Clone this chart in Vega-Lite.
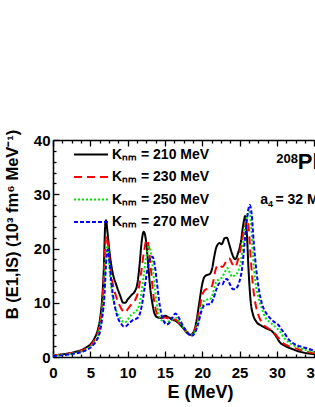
{
  "$schema": "https://vega.github.io/schema/vega-lite/v6.json",
  "autosize": {"type": "none"},
  "width": 262,
  "height": 217,
  "padding": {"left": 53, "top": 140, "right": 0, "bottom": 50},
  "background": "white",
  "config": {
    "view": {"stroke": null},
    "font": "Liberation Sans",
    "axis": {
      "grid": false,
      "domainColor": "black",
      "domainWidth": 1.6,
      "tickColor": "black",
      "tickWidth": 1.3,
      "labelColor": "black",
      "labelFont": "Liberation Sans",
      "labelFontWeight": "bold",
      "labelFontSize": 15,
      "titleColor": "black",
      "titleFont": "Liberation Sans",
      "titleFontWeight": "bold"
    }
  },
  "data": {
    "values": [
      {"K":"210","E":0,"B":0.3},{"K":"210","E":1,"B":0.45},{"K":"210","E":2,"B":0.65},{"K":"210","E":3,"B":0.95},{"K":"210","E":4,"B":1.4},{"K":"210","E":4.5,"B":1.8},{"K":"210","E":5,"B":2.3},{"K":"210","E":5.5,"B":3.3},{"K":"210","E":6,"B":5.0},{"K":"210","E":6.3,"B":7.0},{"K":"210","E":6.6,"B":11},{"K":"210","E":6.8,"B":16},{"K":"210","E":7.0,"B":24.5},{"K":"210","E":7.1,"B":25.2},{"K":"210","E":7.3,"B":23},{"K":"210","E":7.6,"B":19},{"K":"210","E":8.0,"B":15.5},{"K":"210","E":8.5,"B":13.2},{"K":"210","E":9.0,"B":11.3},{"K":"210","E":9.4,"B":10.0},{"K":"210","E":9.7,"B":10.0},{"K":"210","E":10.0,"B":10.6},{"K":"210","E":10.5,"B":11.4},{"K":"210","E":11.0,"B":12.2},{"K":"210","E":11.3,"B":13.5},{"K":"210","E":11.6,"B":17},{"K":"210","E":11.9,"B":21.5},{"K":"210","E":12.15,"B":23.1},{"K":"210","E":12.4,"B":22},{"K":"210","E":12.7,"B":18},{"K":"210","E":13.0,"B":13},{"K":"210","E":13.3,"B":10},{"K":"210","E":13.6,"B":8},{"K":"210","E":14.0,"B":7.3},{"K":"210","E":14.5,"B":7.2},{"K":"210","E":15.0,"B":7.6},{"K":"210","E":15.5,"B":7.3},{"K":"210","E":16.0,"B":6.9},{"K":"210","E":16.5,"B":6.6},{"K":"210","E":17.0,"B":6.0},{"K":"210","E":17.5,"B":5.2},{"K":"210","E":18.0,"B":4.4},{"K":"210","E":18.4,"B":4.1},{"K":"210","E":18.8,"B":4.5},{"K":"210","E":19.2,"B":6.5},{"K":"210","E":19.6,"B":10},{"K":"210","E":20.0,"B":13.5},{"K":"210","E":20.3,"B":14.8},{"K":"210","E":20.6,"B":15.1},{"K":"210","E":21.0,"B":15.3},{"K":"210","E":21.3,"B":16.2},{"K":"210","E":21.6,"B":18.5},{"K":"210","E":21.9,"B":20.3},{"K":"210","E":22.3,"B":21.0},{"K":"210","E":22.6,"B":20.8},{"K":"210","E":23.0,"B":21.9},{"K":"210","E":23.3,"B":22.0},{"K":"210","E":23.6,"B":20.8},{"K":"210","E":24.0,"B":19.0},{"K":"210","E":24.4,"B":18.0},{"K":"210","E":24.8,"B":19.2},{"K":"210","E":25.2,"B":21.5},{"K":"210","E":25.5,"B":24.5},{"K":"210","E":25.75,"B":26.0},{"K":"210","E":26.0,"B":22},{"K":"210","E":26.2,"B":16},{"K":"210","E":26.5,"B":10},{"K":"210","E":26.8,"B":7.8},{"K":"210","E":27.2,"B":6.6},{"K":"210","E":28.0,"B":5.7},{"K":"210","E":28.7,"B":5.2},{"K":"210","E":29.3,"B":4.8},{"K":"210","E":29.8,"B":4.0},{"K":"210","E":30.4,"B":2.7},{"K":"210","E":31.0,"B":2.1},{"K":"210","E":32,"B":1.5},{"K":"210","E":33,"B":1.0},{"K":"210","E":34,"B":0.7},{"K":"210","E":35.1,"B":0.5},
      {"K":"230","E":0,"B":0.3},{"K":"230","E":1,"B":0.4},{"K":"230","E":2,"B":0.6},{"K":"230","E":3,"B":0.85},{"K":"230","E":4,"B":1.3},{"K":"230","E":4.5,"B":1.6},{"K":"230","E":5,"B":2.1},{"K":"230","E":5.5,"B":3.0},{"K":"230","E":6,"B":4.5},{"K":"230","E":6.3,"B":6.3},{"K":"230","E":6.6,"B":10},{"K":"230","E":6.8,"B":14.5},{"K":"230","E":7.0,"B":20.5},{"K":"230","E":7.15,"B":22.3},{"K":"230","E":7.4,"B":20.5},{"K":"230","E":7.7,"B":16.5},{"K":"230","E":8.0,"B":13.5},{"K":"230","E":8.5,"B":11},{"K":"230","E":9.0,"B":9.3},{"K":"230","E":9.4,"B":8.4},{"K":"230","E":9.7,"B":8.2},{"K":"230","E":10.0,"B":8.8},{"K":"230","E":10.5,"B":9.7},{"K":"230","E":11.0,"B":10.5},{"K":"230","E":11.4,"B":12},{"K":"230","E":11.8,"B":15.5},{"K":"230","E":12.2,"B":19.5},{"K":"230","E":12.55,"B":21.6},{"K":"230","E":12.8,"B":20.5},{"K":"230","E":13.1,"B":16.5},{"K":"230","E":13.4,"B":12},{"K":"230","E":13.7,"B":9.2},{"K":"230","E":14.0,"B":7.8},{"K":"230","E":14.5,"B":7.2},{"K":"230","E":15.0,"B":7.3},{"K":"230","E":15.5,"B":7.1},{"K":"230","E":16.0,"B":7.0},{"K":"230","E":16.5,"B":6.8},{"K":"230","E":17.0,"B":6.1},{"K":"230","E":17.5,"B":5.3},{"K":"230","E":18.0,"B":4.6},{"K":"230","E":18.5,"B":4.3},{"K":"230","E":18.9,"B":4.7},{"K":"230","E":19.3,"B":6.5},{"K":"230","E":19.7,"B":9.5},{"K":"230","E":20.1,"B":11.8},{"K":"230","E":20.5,"B":12.5},{"K":"230","E":21.0,"B":12.6},{"K":"230","E":21.4,"B":13.5},{"K":"230","E":21.8,"B":16.2},{"K":"230","E":22.2,"B":17.0},{"K":"230","E":22.7,"B":16.6},{"K":"230","E":23.2,"B":17.6},{"K":"230","E":23.6,"B":18.2},{"K":"230","E":24.0,"B":17.2},{"K":"230","E":24.4,"B":16.6},{"K":"230","E":24.8,"B":18},{"K":"230","E":25.2,"B":20.5},{"K":"230","E":25.6,"B":23.5},{"K":"230","E":26.0,"B":25.4},{"K":"230","E":26.2,"B":24},{"K":"230","E":26.5,"B":18},{"K":"230","E":26.8,"B":13},{"K":"230","E":27.1,"B":10},{"K":"230","E":27.5,"B":7.8},{"K":"230","E":28.0,"B":6.3},{"K":"230","E":28.8,"B":5.3},{"K":"230","E":29.5,"B":4.7},{"K":"230","E":30.2,"B":3.5},{"K":"230","E":30.9,"B":2.5},{"K":"230","E":31.8,"B":1.9},{"K":"230","E":32.7,"B":1.5},{"K":"230","E":34,"B":1.0},{"K":"230","E":35.1,"B":0.7},
      {"K":"250","E":0,"B":0.25},{"K":"250","E":1,"B":0.35},{"K":"250","E":2,"B":0.5},{"K":"250","E":3,"B":0.75},{"K":"250","E":4,"B":1.1},{"K":"250","E":4.5,"B":1.4},{"K":"250","E":5,"B":1.9},{"K":"250","E":5.5,"B":2.7},{"K":"250","E":6,"B":4.0},{"K":"250","E":6.3,"B":5.5},{"K":"250","E":6.6,"B":8.5},{"K":"250","E":6.85,"B":12.5},{"K":"250","E":7.05,"B":18},{"K":"250","E":7.2,"B":20.5},{"K":"250","E":7.4,"B":19.5},{"K":"250","E":7.6,"B":15.5},{"K":"250","E":8.0,"B":11},{"K":"250","E":8.3,"B":9.3},{"K":"250","E":8.7,"B":7.8},{"K":"250","E":9.0,"B":7.1},{"K":"250","E":9.4,"B":6.5},{"K":"250","E":9.7,"B":6.4},{"K":"250","E":10.0,"B":6.9},{"K":"250","E":10.5,"B":7.8},{"K":"250","E":11.0,"B":8.3},{"K":"250","E":11.3,"B":8.7},{"K":"250","E":11.7,"B":10.5},{"K":"250","E":12.1,"B":14.5},{"K":"250","E":12.5,"B":18.5},{"K":"250","E":12.85,"B":20.3},{"K":"250","E":13.1,"B":19.3},{"K":"250","E":13.4,"B":16},{"K":"250","E":13.7,"B":12},{"K":"250","E":14.0,"B":9},{"K":"250","E":14.3,"B":7.3},{"K":"250","E":14.7,"B":6.6},{"K":"250","E":15.2,"B":6.4},{"K":"250","E":15.6,"B":6.6},{"K":"250","E":16.1,"B":7.0},{"K":"250","E":16.5,"B":7.2},{"K":"250","E":17.0,"B":6.4},{"K":"250","E":17.5,"B":5.3},{"K":"250","E":18.0,"B":4.5},{"K":"250","E":18.5,"B":4.1},{"K":"250","E":19.0,"B":4.6},{"K":"250","E":19.4,"B":6.3},{"K":"250","E":19.8,"B":8.7},{"K":"250","E":20.2,"B":10.3},{"K":"250","E":20.6,"B":10.6},{"K":"250","E":21.0,"B":10.6},{"K":"250","E":21.4,"B":11.6},{"K":"250","E":21.8,"B":13.6},{"K":"250","E":22.2,"B":14.3},{"K":"250","E":22.6,"B":14.6},{"K":"250","E":23.0,"B":15.6},{"K":"250","E":23.35,"B":16.4},{"K":"250","E":23.7,"B":15.5},{"K":"250","E":24.0,"B":14.8},{"K":"250","E":24.4,"B":15.1},{"K":"250","E":24.8,"B":15.8},{"K":"250","E":25.2,"B":18},{"K":"250","E":25.6,"B":22.5},{"K":"250","E":26.0,"B":26},{"K":"250","E":26.25,"B":27.2},{"K":"250","E":26.5,"B":25},{"K":"250","E":26.8,"B":18.5},{"K":"250","E":27.1,"B":14},{"K":"250","E":27.5,"B":11.1},{"K":"250","E":28.0,"B":8.8},{"K":"250","E":28.4,"B":7.4},{"K":"250","E":29.0,"B":6.5},{"K":"250","E":29.5,"B":5.9},{"K":"250","E":30.0,"B":5.3},{"K":"250","E":30.4,"B":4.7},{"K":"250","E":31.0,"B":3.5},{"K":"250","E":31.8,"B":2.5},{"K":"250","E":32.8,"B":1.8},{"K":"250","E":34,"B":1.2},{"K":"250","E":35.1,"B":0.9},
      {"K":"270","E":0,"B":0.2},{"K":"270","E":1,"B":0.3},{"K":"270","E":2,"B":0.45},{"K":"270","E":3,"B":0.65},{"K":"270","E":4,"B":1.0},{"K":"270","E":4.5,"B":1.3},{"K":"270","E":5,"B":1.7},{"K":"270","E":5.5,"B":2.4},{"K":"270","E":6,"B":3.5},{"K":"270","E":6.3,"B":4.7},{"K":"270","E":6.6,"B":7.3},{"K":"270","E":6.9,"B":11.5},{"K":"270","E":7.1,"B":17},{"K":"270","E":7.3,"B":19.8},{"K":"270","E":7.5,"B":18.5},{"K":"270","E":7.8,"B":14},{"K":"270","E":8.1,"B":10.8},{"K":"270","E":8.4,"B":8.6},{"K":"270","E":8.75,"B":7.0},{"K":"270","E":9.1,"B":6.2},{"K":"270","E":9.5,"B":5.6},{"K":"270","E":9.8,"B":5.7},{"K":"270","E":10.2,"B":6.2},{"K":"270","E":10.7,"B":6.8},{"K":"270","E":11.1,"B":7.0},{"K":"270","E":11.5,"B":7.5},{"K":"270","E":11.9,"B":9.5},{"K":"270","E":12.3,"B":13},{"K":"270","E":12.7,"B":16.5},{"K":"270","E":13.1,"B":18.4},{"K":"270","E":13.35,"B":18.5},{"K":"270","E":13.6,"B":17.2},{"K":"270","E":13.9,"B":14},{"K":"270","E":14.2,"B":10.5},{"K":"270","E":14.5,"B":8},{"K":"270","E":14.8,"B":6.7},{"K":"270","E":15.2,"B":6.0},{"K":"270","E":15.6,"B":6.3},{"K":"270","E":16.0,"B":7.3},{"K":"270","E":16.4,"B":8.0},{"K":"270","E":16.8,"B":7.4},{"K":"270","E":17.2,"B":6.3},{"K":"270","E":17.7,"B":5.1},{"K":"270","E":18.2,"B":4.2},{"K":"270","E":18.6,"B":3.9},{"K":"270","E":19.0,"B":4.4},{"K":"270","E":19.4,"B":5.9},{"K":"270","E":19.9,"B":8.5},{"K":"270","E":20.3,"B":9.6},{"K":"270","E":20.7,"B":9.7},{"K":"270","E":21.1,"B":9.8},{"K":"270","E":21.5,"B":10.8},{"K":"270","E":21.9,"B":12.5},{"K":"270","E":22.3,"B":13.6},{"K":"270","E":22.7,"B":13.4},{"K":"270","E":23.0,"B":14.2},{"K":"270","E":23.3,"B":14.4},{"K":"270","E":23.7,"B":13.4},{"K":"270","E":24.1,"B":12.5},{"K":"270","E":24.5,"B":12.6},{"K":"270","E":24.9,"B":13.6},{"K":"270","E":25.3,"B":16},{"K":"270","E":25.7,"B":21.5},{"K":"270","E":26.0,"B":25.5},{"K":"270","E":26.35,"B":28.0},{"K":"270","E":26.6,"B":26.5},{"K":"270","E":26.9,"B":21},{"K":"270","E":27.2,"B":16.5},{"K":"270","E":27.6,"B":12.3},{"K":"270","E":28.0,"B":9.8},{"K":"270","E":28.6,"B":8.0},{"K":"270","E":29.2,"B":7.0},{"K":"270","E":29.7,"B":6.4},{"K":"270","E":30.2,"B":5.9},{"K":"270","E":30.6,"B":5.1},{"K":"270","E":31.0,"B":4.4},{"K":"270","E":31.6,"B":3.2},{"K":"270","E":32.2,"B":2.5},{"K":"270","E":33,"B":2.0},{"K":"270","E":34,"B":1.6},{"K":"270","E":35.1,"B":1.1}
    ]
  },
  "resolve": {"axis": {"x": "independent", "y": "independent"}},
  "layer": [
    {
      "mark": {"type": "line", "interpolate": "monotone", "strokeWidth": 2, "clip": true},
      "encoding": {
        "x": {
          "field": "E", "type": "quantitative",
          "scale": {"domain": [0, 35.1], "nice": false, "zero": false},
          "axis": {
            "orient": "bottom",
            "title": "E (MeV)",
            "titleFontSize": 18,
            "titleX": 147,
            "titleY": 40,
            "titleAlign": "center",
            "titleBaseline": "alphabetic",
            "values": [0,1.25,2.5,3.75,5,6.25,7.5,8.75,10,11.25,12.5,13.75,15,16.25,17.5,18.75,20,21.25,22.5,23.75,25,26.25,27.5,28.75,30,31.25,32.5,33.75,35],
            "labelExpr": "datum.value % 5 === 0 ? format(datum.value, 'd') : ''",
            "labelFlush": false,
            "labelOverlap": false,
            "labelPadding": 14,
            "tickSize": {"condition": {"test": "datum.value % 5 === 0", "value": -6}, "value": -3}
          }
        },
        "y": {
          "field": "B", "type": "quantitative",
          "scale": {"domain": [0, 40], "nice": false},
          "axis": {
            "orient": "left",
            "title": "B (E1,IS) (10³ fm⁶ MeV⁻¹)",
            "titleFontSize": 16.5,
            "titleX": -41,
            "titleY": 84,
            "titleAlign": "center",
            "titleBaseline": "middle",
            "values": [0,2,4,6,8,10,12,14,16,18,20,22,24,26,28,30,32,34,36,38,40],
            "labelExpr": "datum.value % 10 === 0 ? format(datum.value, 'd') : ''",
            "labelOverlap": false,
            "labelFlush": false,
            "labelPadding": 9,
            "tickSize": {"condition": {"test": "datum.value % 10 === 0", "value": -6}, "value": -3}
          }
        },
        "color": {
          "field": "K", "type": "nominal",
          "scale": {"domain": ["210","230","250","270"], "range": ["#000000","#ff0000","#00e600","#0000ff"]},
          "legend": {
            "title": null,
            "orient": "none",
            "legendX": 28.5,
            "legendY": 5,
            "padding": 0,
            "symbolType": "M-2,0H2",
            "symbolSize": 289,
            "symbolStrokeWidth": 2,
            "symbolFillColor": "transparent",
            "labelFont": "Liberation Sans",
            "labelFontWeight": "bold",
            "labelFontSize": 14,
            "labelColor": "black",
            "labelOffset": 11.5,
            "rowPadding": 5.5,
            "labelExpr": "'Kₙₘ = ' + datum.label + ' MeV'"
          }
        },
        "strokeDash": {
          "field": "K", "type": "nominal",
          "scale": {"domain": ["210","230","250","270"], "range": [[1,0],[8,5],[2,2],[4,2]]},
          "legend": {
            "title": null,
            "orient": "none",
            "legendX": 28.5,
            "legendY": 5,
            "padding": 0,
            "symbolType": "M-2,0H2",
            "symbolSize": 289,
            "symbolStrokeWidth": 2,
            "symbolFillColor": "transparent",
            "labelFont": "Liberation Sans",
            "labelFontWeight": "bold",
            "labelFontSize": 14,
            "labelColor": "black",
            "labelOffset": 11.5,
            "rowPadding": 5.5,
            "labelExpr": "'Kₙₘ = ' + datum.label + ' MeV'"
          }
        }
      }
    },
    {
      "data": {"values": [{"v": 0}]},
      "mark": {"type": "rule", "opacity": 0},
      "encoding": {
        "x": {
          "field": "v", "type": "quantitative",
          "axis": {
            "orient": "top",
            "title": null,
            "values": [0,1.25,2.5,3.75,5,6.25,7.5,8.75,10,11.25,12.5,13.75,15,16.25,17.5,18.75,20,21.25,22.5,23.75,25,26.25,27.5,28.75,30,31.25,32.5,33.75,35],
            "labels": false,
            "tickSize": {"condition": {"test": "datum.value % 5 === 0", "value": -6}, "value": -3}
          }
        }
      }
    },
    {
      "data": {"values": [{"t": "208"}]},
      "mark": {"type": "text", "align": "left", "baseline": "alphabetic", "fontSize": 13, "fontWeight": "bold", "font": "Liberation Sans", "color": "black"},
      "encoding": {
        "x": {"datum": 29.9, "type": "quantitative", "axis": null},
        "y": {"datum": 35.7, "type": "quantitative", "axis": null},
        "text": {"field": "t"}
      }
    },
    {
      "data": {"values": [{"t": "Pb"}]},
      "mark": {"type": "text", "align": "left", "baseline": "alphabetic", "fontSize": 22, "fontWeight": "bold", "font": "Liberation Sans", "color": "black"},
      "encoding": {
        "x": {"datum": 32.8, "type": "quantitative", "axis": null},
        "y": {"datum": 34.6, "type": "quantitative", "axis": null},
        "text": {"field": "t"}
      }
    },
    {
      "data": {"values": [{"t": "a"}]},
      "mark": {"type": "text", "align": "left", "baseline": "alphabetic", "fontSize": 14, "fontWeight": "bold", "font": "Liberation Sans", "color": "black"},
      "encoding": {
        "x": {"datum": 27.75, "type": "quantitative", "axis": null},
        "y": {"datum": 28.2, "type": "quantitative", "axis": null},
        "text": {"field": "t"}
      }
    },
    {
      "data": {"values": [{"t": "4"}]},
      "mark": {"type": "text", "align": "left", "baseline": "alphabetic", "fontSize": 9, "fontWeight": "bold", "font": "Liberation Sans", "color": "black"},
      "encoding": {
        "x": {"datum": 28.8, "type": "quantitative", "axis": null},
        "y": {"datum": 27.6, "type": "quantitative", "axis": null},
        "text": {"field": "t"}
      }
    },
    {
      "data": {"values": [{"t": "= 32 MeV"}]},
      "mark": {"type": "text", "align": "left", "baseline": "alphabetic", "fontSize": 14, "fontWeight": "bold", "font": "Liberation Sans", "color": "black"},
      "encoding": {
        "x": {"datum": 29.8, "type": "quantitative", "axis": null},
        "y": {"datum": 28.2, "type": "quantitative", "axis": null},
        "text": {"field": "t"}
      }
    }
  ]
}
